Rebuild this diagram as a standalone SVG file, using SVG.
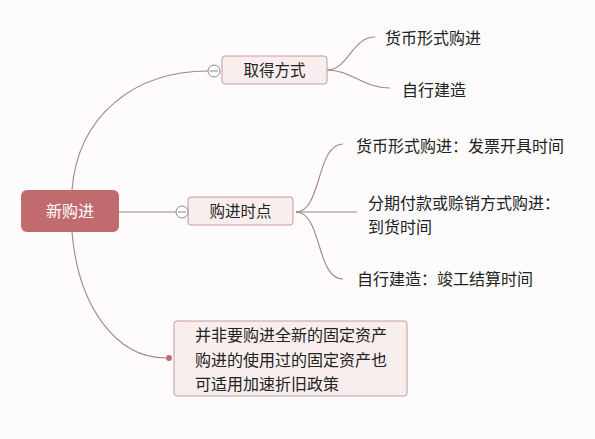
<svg xmlns="http://www.w3.org/2000/svg" width="595" height="439" viewBox="0 0 595 439">
<style>
.t{font-family:"Noto Sans CJK SC","Noto Sans",sans-serif;font-size:16px;fill:#222}
.c{fill:none;stroke:#a88385;stroke-width:1.1}
.n{fill:#f9eeee;stroke:#c59a9c;stroke-width:1}
.k{fill:#fff;stroke:#8a8a8a;stroke-width:1}
</style>
<rect width="595" height="439" fill="#fdfbfb"/>
<g id="connectors">
<path class="c" d="M72,190 C78,115 135,71 208,71"/>
<path class="c" d="M72,232 C78,305 115,358 166,358"/>
<path class="c" d="M119,212 L176,212"/>
<path class="c" d="M327,70 C348,70 352,37 375,37"/>
<path class="c" d="M327,70 C352,70 362,88 390,88"/>
<path class="c" d="M296,212 C322,212 316,144 343,144"/>
<path class="c" d="M296,212 L357,212"/>
<path class="c" d="M296,212 C322,212 316,279 343,279"/>
</g>
<g id="root">
<rect x="21" y="190" width="98" height="42" rx="6" fill="#c26b6e"/>
<text x="70" y="217" text-anchor="middle" style="font-family:'Noto Sans CJK SC',sans-serif;font-size:16px;fill:#fff">新购进</text>
</g>
<g id="n1">
<rect class="n" x="222" y="56" width="105" height="28" rx="3"/>
<text class="t" x="274.5" y="76" text-anchor="middle" style="font-size:15.5px">取得方式</text>
<circle class="k" cx="214" cy="71" r="6"/>
<line x1="210" y1="71" x2="218" y2="71" stroke="#8a8a8a"/>
</g>
<g id="n1a"><text class="t" x="385" y="44">货币形式购进</text></g>
<g id="n1b"><text class="t" x="402" y="96">自行建造</text></g>
<g id="n2">
<rect class="n" x="188" y="197" width="105" height="28" rx="3"/>
<text class="t" x="240.5" y="217" text-anchor="middle" style="font-size:15.5px">购进时点</text>
<circle class="k" cx="182" cy="212" r="6"/>
<line x1="178" y1="212" x2="186" y2="212" stroke="#8a8a8a"/>
</g>
<g id="n2a"><text class="t" x="356" y="152">货币形式购进：发票开具时间</text></g>
<g id="n2b"><text class="t" x="368" y="209">分期付款或赊销方式购进：</text><text class="t" x="368" y="233">到货时间</text></g>
<g id="n2c"><text class="t" x="357" y="285">自行建造：竣工结算时间</text></g>
<g id="n3">
<rect class="n" x="174" y="321" width="233" height="75" rx="3"/>
<circle cx="169" cy="358" r="3" fill="#c26b6e"/>
<text class="t" x="195" y="341">并非要购进全新的固定资产</text>
<text class="t" x="195" y="366">购进的使用过的固定资产也</text>
<text class="t" x="195" y="390">可适用加速折旧政策</text>
</g>
</svg>
